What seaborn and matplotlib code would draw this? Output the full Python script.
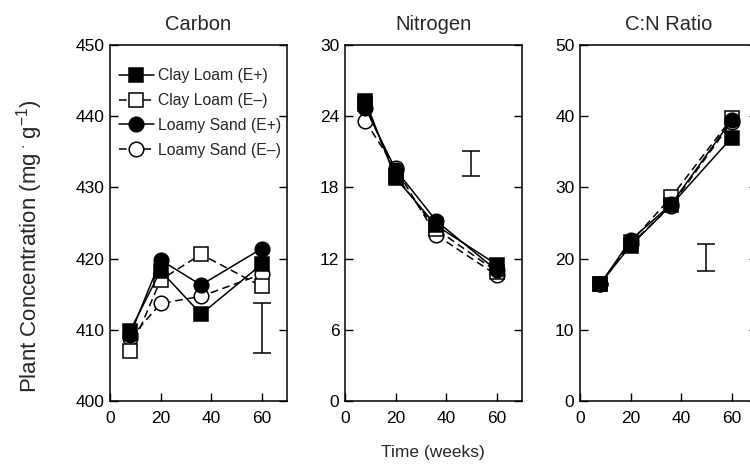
import matplotlib
matplotlib.use("Agg")
import matplotlib.pyplot as plt
import seaborn as sns
import pandas as pd

weeks = [8, 20, 36, 60]
series = ["Clay Loam (E+)", "Clay Loam (E\u2013)", "Loamy Sand (E+)", "Loamy Sand (E\u2013)"]

carbon_cl_ep = [409.9, 418.3, 412.2, 419.2]
carbon_cl_em = [407.0, 417.0, 420.6, 416.1]
carbon_ls_ep = [409.3, 419.8, 416.3, 421.4]
carbon_ls_em = [408.8, 413.7, 414.7, 417.8]

nitrogen_cl_ep = [25.3, 18.8, 14.8, 11.5]
nitrogen_cl_em = [25.0, 19.0, 14.5, 10.9]
nitrogen_ls_ep = [24.7, 19.5, 15.2, 11.0]
nitrogen_ls_em = [23.6, 19.6, 14.0, 10.6]

cn_cl_ep = [16.5, 21.8, 27.5, 37.0]
cn_cl_em = [16.4, 22.3, 28.6, 39.7]
cn_ls_ep = [16.4, 22.6, 27.6, 39.5]
cn_ls_em = [16.5, 22.0, 27.4, 39.2]

# error bar (x, center, half-length)
err_carbon = (60, 410.2, 3.5)
err_nitrogen = (50, 20.05, 1.05)
err_cn = (50, 20.15, 1.85)

titles = ["Carbon", "Nitrogen", "C:N Ratio"]
ylims = [(400, 450), (0, 30), (0, 50)]
yticks = [[400, 410, 420, 430, 440, 450], [0, 6, 12, 18, 24, 30], [0, 10, 20, 30, 40, 50]]
xticks = [0, 20, 40, 60]

sns.set_style("ticks")
plt.rcParams["font.family"] = ["Liberation Sans", "DejaVu Sans"]
plt.rcParams["mathtext.fontset"] = "custom"
plt.rcParams["mathtext.rm"] = "Liberation Sans"
plt.rcParams["mathtext.it"] = "Liberation Sans"

panels = [
    [carbon_cl_ep, carbon_cl_em, carbon_ls_ep, carbon_ls_em],
    [nitrogen_cl_ep, nitrogen_cl_em, nitrogen_ls_ep, nitrogen_ls_em],
    [cn_cl_ep, cn_cl_em, cn_ls_ep, cn_ls_em],
]
errs = [err_carbon, err_nitrogen, err_cn]

styles = [
    dict(marker="s", linestyle="-", mfc="black", z=4),
    dict(marker="s", linestyle=(0, (5, 3)), mfc="white", z=2),
    dict(marker="o", linestyle="-", mfc="black", z=3),
    dict(marker="o", linestyle=(0, (5, 3)), mfc="white", z=1),
]

fig = plt.figure(figsize=(7.5, 4.67), dpi=100)
W, H = 750, 467
lefts = [110, 345, 580]
axes = []
for i, left in enumerate(lefts):
    ax = fig.add_axes([left / W, 1 - 401 / H, 177 / W, 356 / H])
    axes.append(ax)
    for name, vals, st in zip(series, panels[i], styles):
        df = pd.DataFrame({"week": weeks, "val": vals})
        sns.lineplot(data=df, x="week", y="val", ax=ax, color="black",
                     marker=st["marker"], linestyle=st["linestyle"],
                     markerfacecolor=st["mfc"], markeredgecolor="black",
                     markersize=10.5, markeredgewidth=1.1, linewidth=1.1,
                     label=name, legend=False, zorder=st["z"])
    ex, ec, eh = errs[i]
    ax.errorbar([ex], [ec], yerr=[eh], color="black", capsize=6.5,
                elinewidth=1.1, capthick=1.1, fmt="none")
    ax.set_xlim(0, 70)
    ax.set_ylim(*ylims[i])
    ax.set_xticks(xticks)
    ax.set_yticks(yticks[i])
    ax.tick_params(direction="in", length=6, width=1.0, right=True, top=False,
                   labelsize=12.5, colors="black")
    ax.tick_params(axis="x", pad=7)
    ax.tick_params(axis="y", pad=4)
    for sp in ax.spines.values():
        sp.set_visible(True)
        sp.set_linewidth(1.1)
        sp.set_color("black")
    ax.set_xlabel("")
    ax.set_ylabel("")
    ax.set_title(titles[i], fontsize=14.5, pad=11)

fig.text(30 / W, 1 - 246 / H, r"Plant Concentration (mg$^{\,\cdot\,}$g$^{-1}$)",
         rotation=90, ha="center", va="center", fontsize=16)
h, l = axes[0].get_legend_handles_labels()
leg = axes[0].legend(h, l, loc="upper left", frameon=False, fontsize=11.3,
                     handlelength=2.2, handletextpad=0.3, labelspacing=0.62,
                     borderaxespad=0.3, bbox_to_anchor=(-0.01, 0.965))
fig.text(433 / W, 1 - 452 / H, "Time (weeks)", ha="center", va="center", fontsize=12.5)

fig.savefig("out.png", dpi=100)
